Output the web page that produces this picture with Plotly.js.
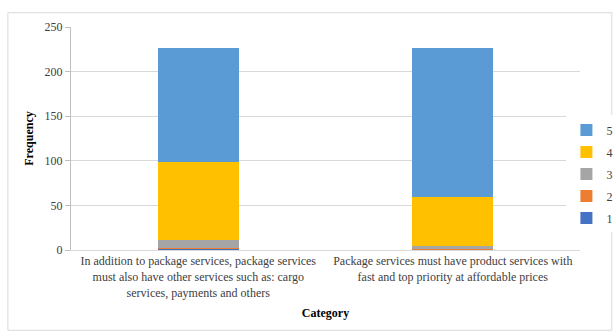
<!DOCTYPE html>
<html>
<head>
<meta charset="utf-8">
<script src="https://cdn.plot.ly/plotly-3.0.1.min.js"></script>
<style>
html,body{margin:0;padding:0;background:#fff;}
#chart{width:615px;height:332px;}
</style>
</head>
<body>
<div id="chart"></div>
<script>
const categories = [
  "In addition to package services, package services<br>must also have other services such as: cargo<br>services, payments and others",
  "Package services must have product services with<br>fast and top priority at affordable prices"
];
const seriesNames = ["1", "2", "3", "4", "5"];
const s1 = [1, 0];
const s2 = [1, 1];
const s3 = [9, 4];
const s4 = [88, 54];
const s5 = [127, 167];
const colors = ["#4472C4", "#ED7D31", "#A5A5A5", "#FFC000", "#5B9BD5"];
const yTicks = [0, 50, 100, 150, 200, 250];

const allSeries = [s1, s2, s3, s4, s5];
const traces = allSeries.map((vals, i) => ({
  type: "bar",
  name: seriesNames[i],
  legendgroup: "g" + i,
  legendrank: 10 - i,
  x: categories,
  y: vals,
  marker: {color: colors[i]},
  hoverinfo: "x+y+name"
}));

const fam = "Liberation Serif";
const font = {family: fam, color: "#404040", size: 12};

const layout = {
  width: 615, height: 332,
  barmode: "stack",
  bargap: 0.68,
  paper_bgcolor: "#fff",
  plot_bgcolor: "#fff",
  font: font,
  margin: {l: 71, r: 35, t: 27, b: 82, autoexpand: false},
  xaxis: {
    showline: true, linecolor: "#d9d9d9", linewidth: 1,
    ticks: "", tickangle: 0,
    tickfont: {family: fam, size: 12, color: "#404040"},
    title: {text: "<b>Category</b>", font: {family: fam, size: 12, color: "#000"}, standoff: 10},
    automargin: false
  },
  yaxis: {
    range: [0, 250], tickvals: yTicks,
    showline: true, linecolor: "#bfbfbf", linewidth: 1,
    ticks: "outside", ticklen: 5, tickcolor: "#bfbfbf",
    gridcolor: "#d9d9d9", zeroline: false,
    tickfont: {family: fam, size: 12, color: "#404040"},
    title: {text: "<b>Frequency</b>", font: {family: fam, size: 12, color: "#000"}, standoff: 8},
    automargin: false
  },
  legend: {
    xref: "container", yref: "container",
    x: 0.921, y: 0.476, xanchor: "left", yanchor: "middle",
    traceorder: "grouped",
    tracegroupgap: 3,
    font: {family: fam, size: 12, color: "#404040"},
    itemwidth: 30
  },
  shapes: [{
    type: "rect", xref: "paper", yref: "paper",
    x0: -0.124, x1: 1.0625, y0: -0.36, y1: 1.064,
    line: {color: "#d9d9d9", width: 1}, fillcolor: "rgba(0,0,0,0)", layer: "below"
  }]
};

Plotly.newPlot("chart", traces, layout, {displayModeBar: false, staticPlot: true});
</script>
</body>
</html>
